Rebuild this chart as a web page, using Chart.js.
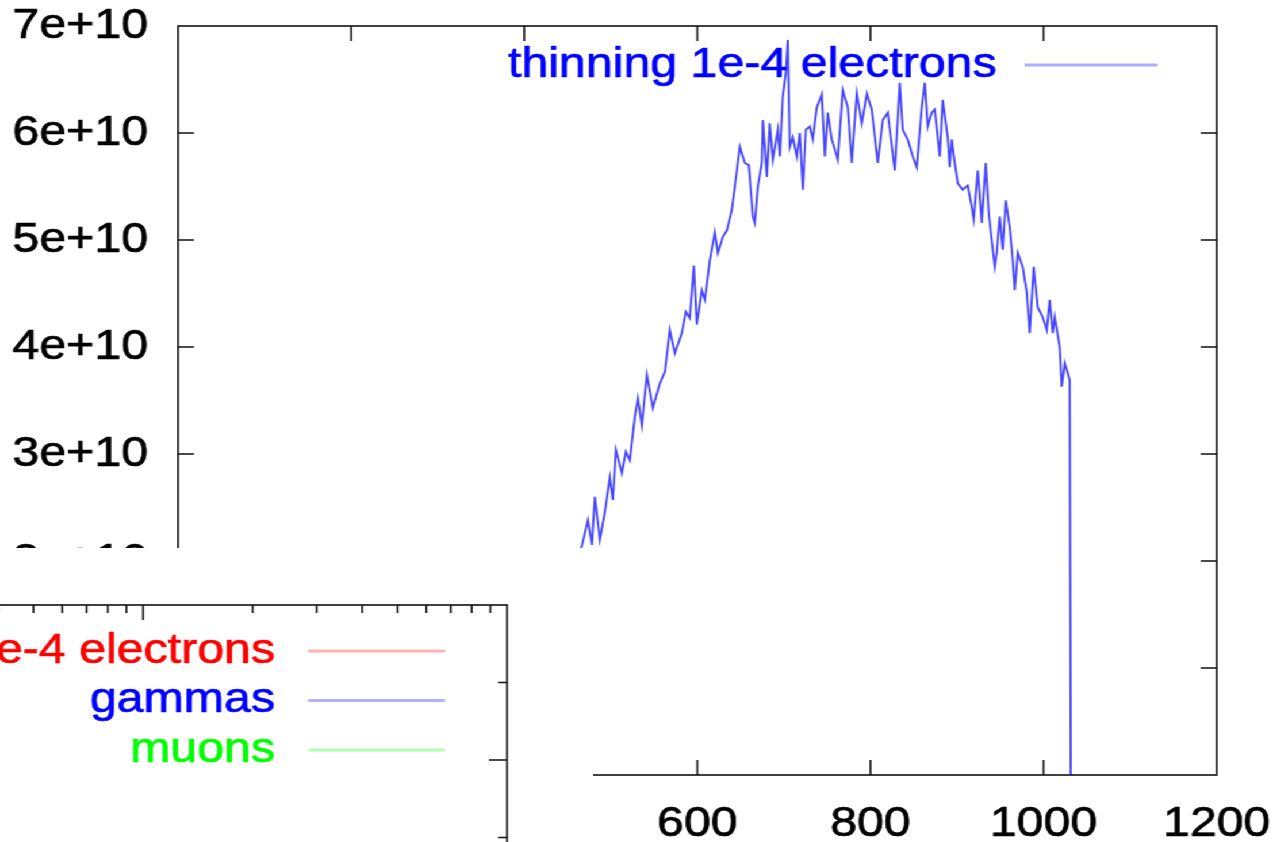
<!DOCTYPE html>
<html>
<head>
<meta charset="utf-8">
<title>thinning 1e-4 electrons</title>
<script src="https://cdn.jsdelivr.net/npm/chart.js@4.4.1/dist/chart.umd.min.js"></script>
<style>
  html, body { margin: 0; padding: 0; background: #fff; overflow: hidden; }
  /* gnuplot-style wide lettering: the drawing is stretched horizontally */
  #stage { position: absolute; left: 0; top: 0; width: 1111.3px; height: 842px;
           transform: scaleX(1.15); transform-origin: 0 0; }
  #main { position: absolute; left: 0; top: 0; }
  #insetBox { position: absolute; left: 0; top: 548px; width: 515.7px; height: 294px;
              background: #fff; overflow: hidden; }
  #inset { position: absolute; left: -640px; top: 0; }
</style>
</head>
<body>
<div id="stage">
  <canvas id="main" width="1111" height="842"></canvas>
  <div id="insetBox"><canvas id="inset" width="1140" height="1370"></canvas></div>
</div>
<script>
// ---- main plot: particle count vs depth ----
const depth = [440,455,466.6,473.5,478.2,481.6,487.4,493.2,498.9,502.4,
  505.9,512.8,517.4,522.0,527.8,531.3,535.9,541.7,548.6,556.7,
  562.5,568.2,574.0,582.1,586.7,591.3,596.0,599.4,605.2,608.7,
  614.4,620.2,623.7,629.5,634.1,639.8,643.3,649.1,654.9,659.5,
  664.1,666.4,669.9,674.5,675.7,680.3,683.7,687.2,693.0,695.3,
  698.7,702.2,704.5,706.8,710.3,714.9,718.4,721.9,725.3,729.9,
  733.4,738.0,743.8,747.3,750.7,755.3,762.3,768.0,773.8,778.4,
  784.2,790.0,795.8,801.5,808.5,814.2,820.0,828.1,833.9,837.3,
  843.1,848.9,853.5,859.3,862.8,866.2,870.8,874.3,880.1,883.5,
  889.3,891.6,893.9,897.4,900.9,906.6,912.4,917.0,919.3,924.0,
  928.6,933.2,936.7,940.1,943.6,945.9,949.4,952.8,956.3,960.9,
  964.4,966.7,970.2,975.9,980.6,984.0,988.6,993.3,999.0,1003.7,
  1007.1,1010.6,1012.9,1018.7,1021.0,1024.5,1027.9,1030.2,1031.4];
const counts = [1.70e10,1.95e10,2.14e10,2.38e10,2.15e10,2.60e10,2.20e10,2.46e10,2.78e10,2.57e10,
  3.04e10,2.82e10,3.02e10,2.94e10,3.35e10,3.52e10,3.27e10,3.74e10,3.43e10,3.66e10,
  3.77e10,4.16e10,3.94e10,4.13e10,4.33e10,4.27e10,4.76e10,4.21e10,4.53e10,4.44e10,
  4.81e10,5.07e10,4.88e10,5.03e10,5.09e10,5.28e10,5.50e10,5.87e10,5.72e10,5.70e10,
  5.22e10,5.16e10,5.50e10,5.72e10,6.12e10,5.59e10,6.09e10,5.75e10,6.03e10,5.78e10,
  6.34e10,6.56e10,6.87e10,5.87e10,5.96e10,5.78e10,6.00e10,5.47e10,6.03e10,6.06e10,
  5.94e10,6.24e10,6.36e10,5.78e10,6.19e10,5.94e10,5.75e10,6.40e10,6.24e10,5.72e10,
  6.37e10,6.09e10,6.37e10,6.22e10,5.72e10,6.12e10,6.19e10,5.65e10,6.47e10,6.03e10,
  5.94e10,5.78e10,5.68e10,6.24e10,6.47e10,6.06e10,6.19e10,6.22e10,5.78e10,6.31e10,
  5.96e10,5.68e10,5.94e10,5.72e10,5.53e10,5.47e10,5.51e10,5.31e10,5.19e10,5.65e10,
  5.16e10,5.72e10,5.25e10,5.00e10,4.75e10,4.88e10,5.22e10,4.91e10,5.37e10,5.12e10,
  4.81e10,4.53e10,4.88e10,4.75e10,4.51e10,4.13e10,4.75e10,4.37e10,4.28e10,4.16e10,
  4.44e10,4.13e10,4.28e10,4.00e10,3.63e10,3.85e10,3.76e10,3.69e10,0];
const mainLabel = 'thinning 1e-4 electrons';
const xTicks = [0, 200, 400, 600, 800, 1000, 1200];
const yTicks = [0, 1e10, 2e10, 3e10, 4e10, 5e10, 6e10, 7e10];

// ---- second panel (log depth axis) ----
const insetLabels = ['thinning 1e-4 electrons', 'gammas', 'muons'];
const insetElectrons = [];
const insetGammas = [];
const insetMuons = [];
const insetXTicks = [1,2,3,4,5,6,7,8,9,10,20,30,40,50,60,70,80,90,100,200,300,400,500,600,700,800,900,1000];
const insetYTicks = [0,0.5,1,1.5,2,2.5,3,3.5,4,4.5,5,5.5,6,6.5,7,7.5,8];

const FONT = "'Liberation Sans', Arial, Helvetica, sans-serif";
Chart.defaults.font.family = FONT;
Chart.defaults.font.size = 42;
Chart.defaults.color = '#000';
Chart.defaults.animation = false;

// fixed axis box sizes, no extra room for overhanging labels
const fixWidth = w => s => { s.width = w; s.paddingTop = 0; s.paddingBottom = 0; s.paddingLeft = 0; s.paddingRight = 0; };
const fixHeight = h => s => { s.height = h; s.paddingTop = 0; s.paddingBottom = 0; s.paddingLeft = 0; s.paddingRight = 0; };

// slightly heavier tick lettering
const tickText = { textStrokeColor: '#000', textStrokeWidth: 0.7 };

// border with inward tick marks on all four sides
const gnuFrame = {
  id: 'gnuFrame',
  beforeDatasetsDraw(chart, args, o) {
    const { ctx, chartArea: a } = chart;
    const xs = chart.scales.x, ys = chart.scales.y;
    ctx.save();
    ctx.strokeStyle = o.color;
    ctx.lineWidth = o.width;
    ctx.beginPath();
    xs.ticks.forEach(t => {
      const p = xs.getPixelForValue(t.value);
      if (p < a.left + 1 || p > a.right - 1) return;
      const len = t.minor ? o.minorV : o.majorV;
      ctx.moveTo(p, a.bottom); ctx.lineTo(p, a.bottom - len);
      ctx.moveTo(p, a.top); ctx.lineTo(p, a.top + len);
    });
    ys.ticks.forEach(t => {
      const p = ys.getPixelForValue(t.value);
      if (p < a.top + 1 || p > a.bottom - 1) return;
      const len = t.minor ? o.minorH : o.majorH;
      ctx.moveTo(a.left, p); ctx.lineTo(a.left + len, p);
      ctx.moveTo(a.right, p); ctx.lineTo(a.right - len, p);
    });
    ctx.stroke();
    ctx.strokeRect(a.left, a.top, a.right - a.left, a.bottom - a.top);
    ctx.restore();
  }
};

// key: right-aligned label followed by a line sample, top right inside the border
const gnuKey = {
  id: 'gnuKey',
  afterDatasetsDraw(chart, args, o) {
    const { ctx, chartArea: a } = chart;
    ctx.save();
    ctx.font = `${o.size}px ${FONT}`;
    ctx.textAlign = 'right';
    ctx.textBaseline = 'middle';
    ctx.lineJoin = 'round';
    chart.data.datasets.forEach((ds, i) => {
      const y = a.top + o.first + i * o.step;
      const x2 = a.right - o.inset, x1 = x2 - o.len;
      ctx.fillStyle = o.textColors[i];
      ctx.strokeStyle = o.textColors[i];
      ctx.lineWidth = 0.7;
      ctx.strokeText(ds.label, x1 - o.gap, y);
      ctx.fillText(ds.label, x1 - o.gap, y);
      ctx.strokeStyle = o.lineColors[i];
      ctx.lineWidth = o.lineWidth;
      ctx.beginPath(); ctx.moveTo(x1, y); ctx.lineTo(x2, y); ctx.stroke();
    });
    ctx.restore();
  }
};

new Chart(document.getElementById('main'), {
  type: 'line',
  data: {
    datasets: [{
      label: mainLabel,
      data: depth.map((d, i) => ({ x: d, y: counts[i] })),
      borderColor: 'rgba(0,0,255,0.72)',
      borderWidth: 1.9,
      pointRadius: 0,
      tension: 0,
      fill: false
    }]
  },
  options: {
    responsive: false,
    layout: { autoPadding: false, padding: { top: 26, right: 53.0, left: 0, bottom: 0 } },
    scales: {
      x: {
        type: 'linear', min: 0, max: 1200,
        afterBuildTicks: s => { s.ticks = xTicks.map(v => ({ value: v })); },
        afterFit: fixHeight(67),
        grid: { display: false, drawTicks: false },
        border: { display: false },
        ticks: { padding: 24, maxRotation: 0, autoSkip: false, ...tickText, callback: v => String(v) }
      },
      y: {
        type: 'linear', min: 0, max: 7e10,
        afterBuildTicks: s => { s.ticks = yTicks.map(v => ({ value: v })); },
        afterFit: fixWidth(154.8),
        grid: { display: false, drawTicks: false },
        border: { display: false },
        ticks: { padding: 26, autoSkip: false, ...tickText,
                 callback: v => v === 0 ? '0' : Math.round(v / 1e10) + 'e+10' }
      }
    },
    plugins: {
      legend: { display: false },
      tooltip: { enabled: false },
      gnuFrame: { color: '#111', width: 1.6, majorV: 15, minorV: 8, majorH: 13.9, minorH: 7 },
      gnuKey: { size: 42, first: 39, step: 49.5, inset: 51.3, len: 115.7, gap: 24.3, lineWidth: 3,
                textColors: ['#0000ff'], lineColors: ['rgba(0,0,255,0.32)'] }
    }
  },
  plugins: [gnuFrame, gnuKey]
});

new Chart(document.getElementById('inset'), {
  type: 'line',
  data: {
    datasets: [
      { label: insetLabels[0], data: insetElectrons, borderColor: 'rgba(255,0,0,0.3)', borderWidth: 3, pointRadius: 0 },
      { label: insetLabels[1], data: insetGammas, borderColor: 'rgba(0,0,255,0.3)', borderWidth: 3, pointRadius: 0 },
      { label: insetLabels[2], data: insetMuons, borderColor: 'rgba(0,255,0,0.3)', borderWidth: 3, pointRadius: 0 }
    ]
  },
  options: {
    responsive: false,
    layout: { autoPadding: false, padding: { top: 57, right: 59.1, left: 0, bottom: 0 } },
    scales: {
      x: {
        type: 'logarithmic', min: 1, max: 1000,
        afterBuildTicks: s => {
          s.ticks = insetXTicks.map(v => ({ value: v, minor: Math.abs(Math.log10(v) % 1) > 1e-9 }));
        },
        afterFit: fixHeight(73),
        grid: { display: false, drawTicks: false },
        border: { display: false },
        ticks: { padding: 24, maxRotation: 0, autoSkip: false, ...tickText,
                 callback: (v, i, t) => t[i].minor ? '' : String(v) }
      },
      y: {
        type: 'linear', min: 0, max: 8,
        afterBuildTicks: s => {
          s.ticks = insetYTicks.map(v => ({ value: v, minor: v % 1 !== 0 }));
        },
        afterFit: fixWidth(131.3),
        grid: { display: false, drawTicks: false },
        border: { display: false },
        ticks: { padding: 26, autoSkip: false, ...tickText,
                 callback: (v, i, t) => t[i].minor ? '' : String(v) }
      }
    },
    plugins: {
      legend: { display: false },
      tooltip: { enabled: false },
      gnuFrame: { color: '#111', width: 1.6, majorV: 15, minorV: 8, majorH: 15.7, minorH: 7.8 },
      gnuKey: { size: 42, first: 46, step: 49.5, inset: 53.9, len: 119.1, gap: 28.7, lineWidth: 3,
                textColors: ['#ff0000', '#0000ff', '#00ff00'],
                lineColors: ['rgba(255,0,0,0.3)', 'rgba(0,0,255,0.3)', 'rgba(0,255,0,0.3)'] }
    }
  },
  plugins: [gnuFrame, gnuKey]
});
</script>
</body>
</html>
